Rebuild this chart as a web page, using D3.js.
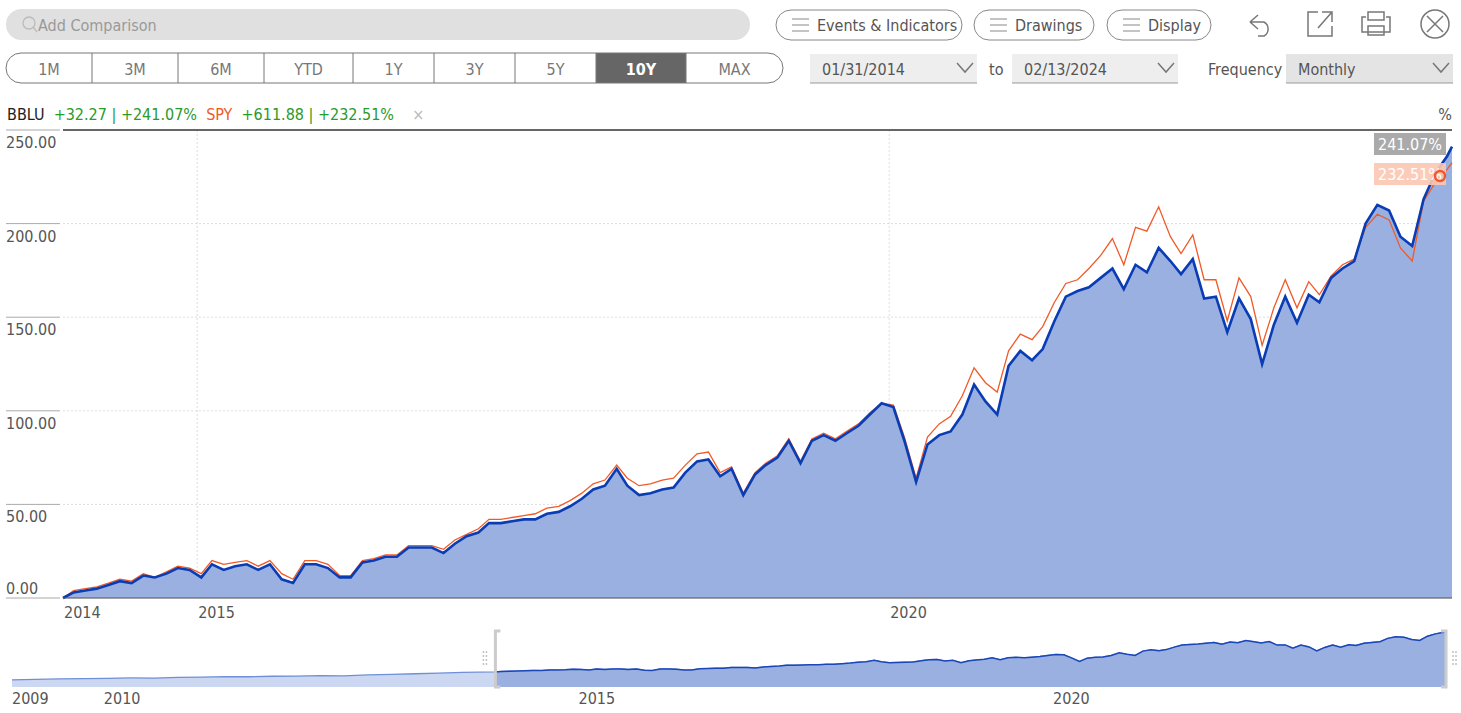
<!DOCTYPE html>
<html><head><meta charset="utf-8">
<script src="https://cdn.jsdelivr.net/npm/d3@7"></script>
<style>
body{margin:0;background:#fff;}
svg{font-family:"DejaVu Sans Condensed","DejaVu Sans",sans-serif;font-stretch:condensed;}
</style></head><body>
<svg id="c" width="1461" height="713"></svg>
<script>
// monthly cumulative return, %, month ends Jan 2014 .. Jan 2024, last point 2024-02-13
var bblu = [0,3,4,5,7,9,8,12,11,13,16,15,
 11,18,15,17,18,15,18,10,8,18,18,16,
 11,11,19,20,22,22,27,27,27,24,29,33,
 35,40,40,41,42,42,45,46,49,53,58,60,
 69,60,55,56,58,59,67,73,74,65,69,55,
 66,71,75,84,72,84,87,84,88,92,98,104,
 102,84,62,82,87,89,98,114,105,98,124,132,
 127,133,148,161,164,166,171,176,165,178,174,187,
 180,173,181,160,161,142,160,149,125,146,161,147,
 162,158,171,176,180,200,210,207,193,188,213,227,
 236,241.07];
var spy = [0,4,5,6,8,10,9,13,11,14,17,16,
 13,20,18,19,20,17,20,13,10,20,20,18,
 12,12,20,21,23,23,28,28,28,26,31,34,
 37,42,42,43,44,45,48,49,52,56,61,63,
 71,64,60,61,63,64,71,77,78,67,70,56,
 67,72,76,85,73,85,88,85,89,93,99,104,
 103,86,64,86,93,97,108,123,115,110,132,141,
 138,145,158,168,170,176,183,192,178,198,196,209,
 193,184,194,170,170,148,171,161,135,155,170,155,
 169,162,172,178,181,198,205,202,187,180,212,222,
 229,232.51];
// navigator history before window (quarterly 2009-2013, same units)
var miniPre = [-48,-45,-42,-40,-38,-36,-37,-33,-31,-28,-29,-26,-25,-22,-24,-18,-15,-11,-7,-3];
var yTicks = [0,50,100,150,200,250];
var xTickYears = [2014,2015,2020];
var miniYears = [2009,2010,2015,2020];
var ranges = ["1M","3M","6M","YTD","1Y","3Y","5Y","10Y","MAX"];

var dates = bblu.map(function(d,i){
  if(i==bblu.length-1) return new Date(2024,1,13);
  return new Date(2014,1+i,0);
});
var miniDates = miniPre.map(function(d,i){ return new Date(2009,i*3,1); });

var svg = d3.select("#c");
var txt = "#555";
var fs = 16;

// toolbar
svg.append("rect").attr("x",6).attr("y",9).attr("width",744).attr("height",31).attr("rx",15.5).attr("fill","#e0e0e0");
svg.append("circle").attr("cx",29).attr("cy",23).attr("r",6).attr("fill","none").attr("stroke","#bbb").attr("stroke-width",1.3);
svg.append("line").attr("x1",33).attr("y1",27).attr("x2",37).attr("y2",32).attr("stroke","#bbb").attr("stroke-width",1.3);
svg.append("text").attr("x",38).attr("y",31).attr("font-size",fs).attr("fill","#999").text("Add Comparison");

var btns=[["Events & Indicators",776,186],["Drawings",974,120],["Display",1107,104]];
btns.forEach(function(b){
  var g=svg.append("g");
  g.append("rect").attr("x",b[1]).attr("y",10).attr("width",b[2]).attr("height",30).attr("rx",15).attr("fill","#fff").attr("stroke","#888");
  for(var k=0;k<3;k++){
    g.append("line").attr("x1",b[1]+16).attr("x2",b[1]+33).attr("y1",19+k*6).attr("y2",19+k*6).attr("stroke","#888");
  }
  g.append("text").attr("x",b[1]+41).attr("y",31).attr("font-size",fs).attr("fill",txt).text(b[0]);
});
// icons
svg.append("path").attr("d","M1250,22 l8,-7 M1250,22 l8,7 M1250,22 h14 a8,8 0 0 1 0,14 h-6").attr("fill","none").attr("stroke","#777").attr("stroke-width",1.5);
svg.append("path").attr("d","M1318,12 h-10 v24 h24 v-10 M1318,28 l14,-16 M1322,12 h10 v10").attr("fill","none").attr("stroke","#777").attr("stroke-width",1.5);
svg.append("path").attr("d","M1366,17 h-4 v15 h28 v-15 h-4 M1368,12 h16 v8 h-16 z M1368,26 h16 v9 h-16 z").attr("fill","none").attr("stroke","#777").attr("stroke-width",1.5);
svg.append("circle").attr("cx",1435).attr("cy",24).attr("r",14).attr("fill","none").attr("stroke","#777").attr("stroke-width",1.5);
svg.append("path").attr("d","M1427,16 l16,16 M1443,16 l-16,16").attr("stroke","#777").attr("stroke-width",1.5);

// range selector
var rx=[6,92,178,264,353,434,515,596,686,783];
svg.append("rect").attr("x",596).attr("y",53).attr("width",90).attr("height",30).attr("fill","#666");
svg.append("rect").attr("x",6).attr("y",53).attr("width",777).attr("height",30).attr("rx",15).attr("fill","none").attr("stroke","#777");
ranges.forEach(function(r,i){
  if(i>0) svg.append("line").attr("x1",rx[i]).attr("x2",rx[i]).attr("y1",53).attr("y2",83).attr("stroke","#777");
  svg.append("text").attr("x",(rx[i]+rx[i+1])/2).attr("y",75).attr("text-anchor","middle").attr("font-size",fs)
    .attr("fill",r=="10Y"?"#fff":"#777").attr("font-weight",r=="10Y"?"bold":"normal").text(r);
});
function dropdown(x,w,label,fill){
  svg.append("rect").attr("x",x).attr("y",54).attr("width",w).attr("height",29).attr("fill",fill);
  svg.append("line").attr("x1",x).attr("x2",x+w).attr("y1",83).attr("y2",83).attr("stroke","#999");
  svg.append("text").attr("x",x+12).attr("y",75).attr("font-size",fs).attr("fill",txt).text(label);
  svg.append("path").attr("d","M"+(x+w-20)+",63 l8,9 l8,-9").attr("fill","none").attr("stroke","#777").attr("stroke-width",1.5);
}
dropdown(810,167,"01/31/2014","#eee");
svg.append("text").attr("x",989).attr("y",75).attr("font-size",fs).attr("fill",txt).text("to");
dropdown(1012,166,"02/13/2024","#eee");
svg.append("text").attr("x",1208).attr("y",75).attr("font-size",fs).attr("fill",txt).text("Frequency");
dropdown(1286,167,"Monthly","#e4e4e4");

// legend
var lg=svg.append("text").attr("x",7).attr("y",120).attr("font-size",fs).attr("xml:space","preserve");
lg.append("tspan").attr("fill","#222").text("BBLU ");
lg.append("tspan").attr("fill","#2a9a2a").text(" +32.27 | +241.07%  ");
lg.append("tspan").attr("fill","#f05a28").text("SPY ");
lg.append("tspan").attr("fill","#2a9a2a").text(" +611.88 | +232.51%  ");
lg.append("tspan").attr("fill","#bbb").text("  ×");
svg.append("text").attr("x",1452).attr("y",120).attr("text-anchor","end").attr("font-size",fs).attr("fill",txt).text("%");

// main chart
var x=d3.scaleTime().domain([dates[0],dates[dates.length-1]]).range([63,1452]);
var y=d3.scaleLinear().domain([0,250]).range([598,130]);

yTicks.forEach(function(t){
  svg.append("line").attr("x1",63).attr("x2",1452).attr("y1",y(t)).attr("y2",y(t))
    .attr("stroke","#ddd").attr("stroke-dasharray",t==0||t==250?null:"2,2");
  svg.append("line").attr("x1",6).attr("x2",60).attr("y1",y(t)).attr("y2",y(t)).attr("stroke","#aaa");
  svg.append("text").attr("x",6).attr("y",t==0?y(t)-4:y(t)+18).attr("font-size",fs).attr("fill",txt).text(t.toFixed(2));
});
xTickYears.forEach(function(yr){
  var xx=x(new Date(yr,0,20));
  if(yr>2014) svg.append("line").attr("x1",xx).attr("x2",xx).attr("y1",130).attr("y2",598).attr("stroke","#ddd").attr("stroke-dasharray","2,2");
  svg.append("text").attr("x",yr==2014?64:xx+1).attr("y",618).attr("font-size",fs).attr("fill",txt).text(yr);
});

svg.append("path").datum(bblu).attr("fill","#99b0e1")
  .attr("d",d3.area().x(function(d,i){return x(dates[i]);}).y0(598).y1(function(d){return y(d);}));
svg.append("path").datum(spy).attr("fill","none").attr("stroke","#f05a28").attr("stroke-width",1.3)
  .attr("d",d3.line().x(function(d,i){return x(dates[i]);}).y(function(d){return y(d);}));
svg.append("path").datum(bblu).attr("fill","none").attr("stroke","#0a3cb4").attr("stroke-width",2.6)
  .attr("d",d3.line().x(function(d,i){return x(dates[i]);}).y(function(d){return y(d);}));
svg.append("line").attr("x1",63).attr("x2",1452).attr("y1",598).attr("y2",598).attr("stroke","#555");
svg.append("line").attr("x1",63).attr("x2",1452).attr("y1",130).attr("y2",130).attr("stroke","#666").attr("stroke-width",2);

// end labels
var lb=bblu[bblu.length-1], ls=spy[spy.length-1];
svg.append("rect").attr("x",1374).attr("y",133).attr("width",72).attr("height",22).attr("fill","#aaa");
svg.append("text").attr("x",1410).attr("y",150).attr("text-anchor","middle").attr("font-size",fs).attr("fill","#fff").text(lb.toFixed(2)+"%");
svg.append("rect").attr("x",1374).attr("y",163).attr("width",72).attr("height",22).attr("fill","#fcc6b2").attr("opacity",0.9);
svg.append("text").attr("x",1410).attr("y",180).attr("text-anchor","middle").attr("font-size",fs).attr("fill","#fff").text(ls.toFixed(2)+"%");
svg.append("circle").attr("cx",1440).attr("cy",176).attr("r",5).attr("fill","none").attr("stroke","#f05a28").attr("stroke-width",2.5);

// navigator
var mx=d3.scaleTime().domain([new Date(2009,0,1),dates[dates.length-1]]).range([12,1447]);
var my=d3.scaleLinear().domain([-90,250]).range([687,630]);
var allD=miniDates.concat(dates), allV=miniPre.concat(bblu);
var sel0=mx(dates[0]), sel1=mx(dates[dates.length-1]);
var mArea=d3.area().x(function(d,i){return mx(allD[i]);}).y0(687).y1(function(d){return my(d);});
svg.append("clipPath").attr("id","selc").append("rect").attr("x",sel0).attr("y",600).attr("width",sel1-sel0).attr("height",100);
svg.append("path").datum(allV).attr("fill","#ccd8f1").attr("d",mArea);
svg.append("path").datum(allV).attr("fill","none").attr("stroke","#6f8fd8").attr("stroke-width",1.3)
  .attr("d",d3.line().x(function(d,i){return mx(allD[i]);}).y(function(d){return my(d);}));
svg.append("path").datum(allV).attr("fill","#99b0e1").attr("clip-path","url(#selc)").attr("d",mArea);
svg.append("path").datum(allV).attr("fill","none").attr("stroke","#1a46b8").attr("stroke-width",1.5).attr("clip-path","url(#selc)")
  .attr("d",d3.line().x(function(d,i){return mx(allD[i]);}).y(function(d){return my(d);}));
[sel0,sel1].forEach(function(sx,k){
  var d=k==0?"M"+(sx+6)+",631 h-5 v56 h5":"M"+(sx-6)+",631 h5 v56 h-5";
  svg.append("path").attr("d",d).attr("fill","none").attr("stroke","#ccc").attr("stroke-width",3);
  for(var r=0;r<4;r++) for(var c2=0;c2<2;c2++)
    svg.append("circle").attr("cx",(k==0?sx-11:sx+6)+c2*3).attr("cy",652+r*4).attr("r",0.9).attr("fill","#bbb");
});
miniYears.forEach(function(yr){
  svg.append("text").attr("x",mx(new Date(yr,0,1))+(yr==2009?0:-3)).attr("y",704).attr("font-size",fs).attr("fill",txt).text(yr);
});
</script></body></html>
